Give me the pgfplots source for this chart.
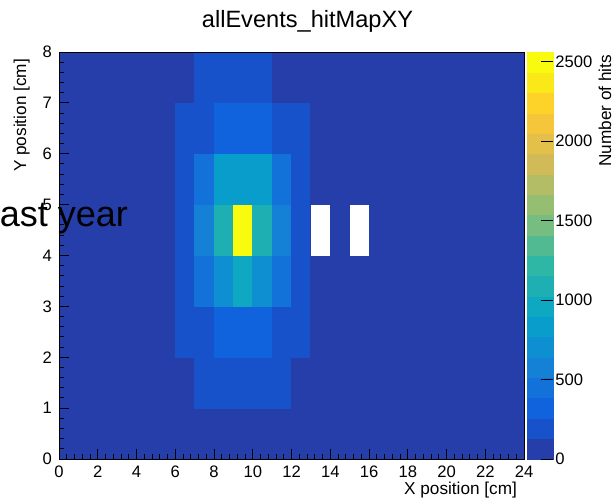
\documentclass[border=0pt]{standalone}
\usepackage{fontspec}
\setmainfont{Liberation Sans}
\usepackage{pgfplots}
\pgfplotsset{compat=1.18}

% ROOT kBird palette, 20 contour levels
\pgfplotsset{
  colormap={rootbird}{
    rgb255=(38,62,169) rgb255=(23,82,203) rgb255=(16,99,220) rgb255=(18,114,217)
    rgb255=(20,129,214) rgb255=(14,143,209) rgb255=(9,157,204) rgb255=(14,168,195)
    rgb255=(30,175,179) rgb255=(46,183,164) rgb255=(81,186,146) rgb255=(117,189,128)
    rgb255=(150,190,113) rgb255=(178,189,101) rgb255=(209,187,89) rgb255=(227,192,74)
    rgb255=(245,197,58) rgb255=(253,211,41) rgb255=(251,232,24) rgb255=(249,251,14)},
  /pgf/number format/assume math mode=true,
  /pgf/number format/1000 sep={},
}

\begin{document}
\begin{tikzpicture}
\begin{axis}[
  at={(29.5pt,20.5pt)}, anchor=south west,
  scale only axis, width=232.5pt, height=203.5pt,
  xmin=0, xmax=24, ymin=0, ymax=8, enlargelimits=false,
  axis on top,
  colormap name=rootbird, colormap access=piecewise constant,
  point meta min=0, point meta max=2560,
  xtick={0,2,...,24}, ytick={0,1,...,8},
  minor x tick num=4, minor y tick num=4,
  tick pos=left, tick align=inside,
  major tick length=5pt, minor tick length=2.5pt,
  tick style={black, line width=0.5pt},
  axis line style={line width=0.4pt},
  tick label style={font=\fontsize{8.3}{10}\selectfont},
  label style={font=\fontsize{8.6}{10}\selectfont},
  xlabel={X position [cm]},
  xlabel style={at={(axis description cs:1,-0.076)}, anchor=east},
  ylabel={Y position [cm]},
  ylabel style={at={(axis description cs:-0.08,1.0)}, anchor=east},
  colorbar,
  colorbar shift/.style={xshift=1.5pt},
  colorbar style={
    at={(parent axis.north east)}, anchor=north west,
    width=13pt,
    ytick={0,500,...,2500}, ytick pos=right,
    scaled y ticks=false,
    tick align=inside, major tick length=6pt, minor tick num=0,
    tick style={black, line width=0.5pt},
    axis line style={draw=none},
    yticklabel style={font=\fontsize{8.3}{10}\selectfont, inner xsep=1pt},
    ylabel={Number of hits},
    ylabel style={font=\fontsize{8.6}{10}\selectfont, at={(axis description cs:3.0,1.01)}, anchor=east},
  },
]
\addplot[matrix plot*, mesh/cols=24, point meta=explicit] table[row sep=\\, meta=z] {
x y z\\
0.5 0.5 40\\ 1.5 0.5 40\\ 2.5 0.5 40\\ 3.5 0.5 40\\ 4.5 0.5 40\\ 5.5 0.5 40\\ 6.5 0.5 40\\ 7.5 0.5 40\\ 8.5 0.5 40\\ 9.5 0.5 40\\ 10.5 0.5 40\\ 11.5 0.5 40\\ 12.5 0.5 40\\ 13.5 0.5 40\\ 14.5 0.5 40\\ 15.5 0.5 40\\ 16.5 0.5 40\\ 17.5 0.5 40\\ 18.5 0.5 40\\ 19.5 0.5 40\\ 20.5 0.5 40\\ 21.5 0.5 40\\ 22.5 0.5 40\\ 23.5 0.5 40\\
0.5 1.5 40\\ 1.5 1.5 40\\ 2.5 1.5 40\\ 3.5 1.5 40\\ 4.5 1.5 40\\ 5.5 1.5 40\\ 6.5 1.5 40\\ 7.5 1.5 190\\ 8.5 1.5 190\\ 9.5 1.5 190\\ 10.5 1.5 190\\ 11.5 1.5 190\\ 12.5 1.5 40\\ 13.5 1.5 40\\ 14.5 1.5 40\\ 15.5 1.5 40\\ 16.5 1.5 40\\ 17.5 1.5 40\\ 18.5 1.5 40\\ 19.5 1.5 40\\ 20.5 1.5 40\\ 21.5 1.5 40\\ 22.5 1.5 40\\ 23.5 1.5 40\\
0.5 2.5 40\\ 1.5 2.5 40\\ 2.5 2.5 40\\ 3.5 2.5 40\\ 4.5 2.5 40\\ 5.5 2.5 40\\ 6.5 2.5 190\\ 7.5 2.5 190\\ 8.5 2.5 320\\ 9.5 2.5 320\\ 10.5 2.5 320\\ 11.5 2.5 190\\ 12.5 2.5 190\\ 13.5 2.5 40\\ 14.5 2.5 40\\ 15.5 2.5 40\\ 16.5 2.5 40\\ 17.5 2.5 40\\ 18.5 2.5 40\\ 19.5 2.5 40\\ 20.5 2.5 40\\ 21.5 2.5 40\\ 22.5 2.5 40\\ 23.5 2.5 40\\
0.5 3.5 40\\ 1.5 3.5 40\\ 2.5 3.5 40\\ 3.5 3.5 40\\ 4.5 3.5 40\\ 5.5 3.5 40\\ 6.5 3.5 190\\ 7.5 3.5 450\\ 8.5 3.5 700\\ 9.5 3.5 960\\ 10.5 3.5 700\\ 11.5 3.5 450\\ 12.5 3.5 190\\ 13.5 3.5 40\\ 14.5 3.5 40\\ 15.5 3.5 40\\ 16.5 3.5 40\\ 17.5 3.5 40\\ 18.5 3.5 40\\ 19.5 3.5 40\\ 20.5 3.5 40\\ 21.5 3.5 40\\ 22.5 3.5 40\\ 23.5 3.5 40\\
0.5 4.5 40\\ 1.5 4.5 40\\ 2.5 4.5 40\\ 3.5 4.5 40\\ 4.5 4.5 40\\ 5.5 4.5 40\\ 6.5 4.5 190\\ 7.5 4.5 580\\ 8.5 4.5 1040\\ 9.5 4.5 2530\\ 10.5 4.5 1090\\ 11.5 4.5 580\\ 12.5 4.5 190\\ 13.5 4.5 0\\ 14.5 4.5 40\\ 15.5 4.5 0\\ 16.5 4.5 40\\ 17.5 4.5 40\\ 18.5 4.5 40\\ 19.5 4.5 40\\ 20.5 4.5 40\\ 21.5 4.5 40\\ 22.5 4.5 40\\ 23.5 4.5 40\\
0.5 5.5 40\\ 1.5 5.5 40\\ 2.5 5.5 40\\ 3.5 5.5 40\\ 4.5 5.5 40\\ 5.5 5.5 40\\ 6.5 5.5 190\\ 7.5 5.5 450\\ 8.5 5.5 830\\ 9.5 5.5 840\\ 10.5 5.5 830\\ 11.5 5.5 450\\ 12.5 5.5 190\\ 13.5 5.5 40\\ 14.5 5.5 40\\ 15.5 5.5 40\\ 16.5 5.5 40\\ 17.5 5.5 40\\ 18.5 5.5 40\\ 19.5 5.5 40\\ 20.5 5.5 40\\ 21.5 5.5 40\\ 22.5 5.5 40\\ 23.5 5.5 40\\
0.5 6.5 40\\ 1.5 6.5 40\\ 2.5 6.5 40\\ 3.5 6.5 40\\ 4.5 6.5 40\\ 5.5 6.5 40\\ 6.5 6.5 190\\ 7.5 6.5 190\\ 8.5 6.5 320\\ 9.5 6.5 320\\ 10.5 6.5 320\\ 11.5 6.5 190\\ 12.5 6.5 190\\ 13.5 6.5 40\\ 14.5 6.5 40\\ 15.5 6.5 40\\ 16.5 6.5 40\\ 17.5 6.5 40\\ 18.5 6.5 40\\ 19.5 6.5 40\\ 20.5 6.5 40\\ 21.5 6.5 40\\ 22.5 6.5 40\\ 23.5 6.5 40\\
0.5 7.5 40\\ 1.5 7.5 40\\ 2.5 7.5 40\\ 3.5 7.5 40\\ 4.5 7.5 40\\ 5.5 7.5 40\\ 6.5 7.5 40\\ 7.5 7.5 190\\ 8.5 7.5 190\\ 9.5 7.5 190\\ 10.5 7.5 190\\ 11.5 7.5 40\\ 12.5 7.5 40\\ 13.5 7.5 40\\ 14.5 7.5 40\\ 15.5 7.5 40\\ 16.5 7.5 40\\ 17.5 7.5 40\\ 18.5 7.5 40\\ 19.5 7.5 40\\ 20.5 7.5 40\\ 21.5 7.5 40\\ 22.5 7.5 40\\ 23.5 7.5 40\\
};
% empty bins are left white
\addplot[fill=white, draw=none, mark=none, forget plot] coordinates {(13,4) (14,4) (14,5) (13,5)};
\addplot[fill=white, draw=none, mark=none, forget plot] coordinates {(15,4) (16,4) (16,5) (15,5)};
\end{axis}
\node[anchor=base, inner sep=0pt, font=\fontsize{11.8}{14}\selectfont] at (153.75pt,236.5pt) {allEvents\_hitMapXY};
\node[anchor=base west, inner sep=0pt, font=\fontsize{18}{20}\selectfont] at (-4.3pt,137pt) {last year};
\pgfresetboundingbox
\path[use as bounding box] (0,0) rectangle (307.5pt,250pt);
\end{tikzpicture}
\end{document}
